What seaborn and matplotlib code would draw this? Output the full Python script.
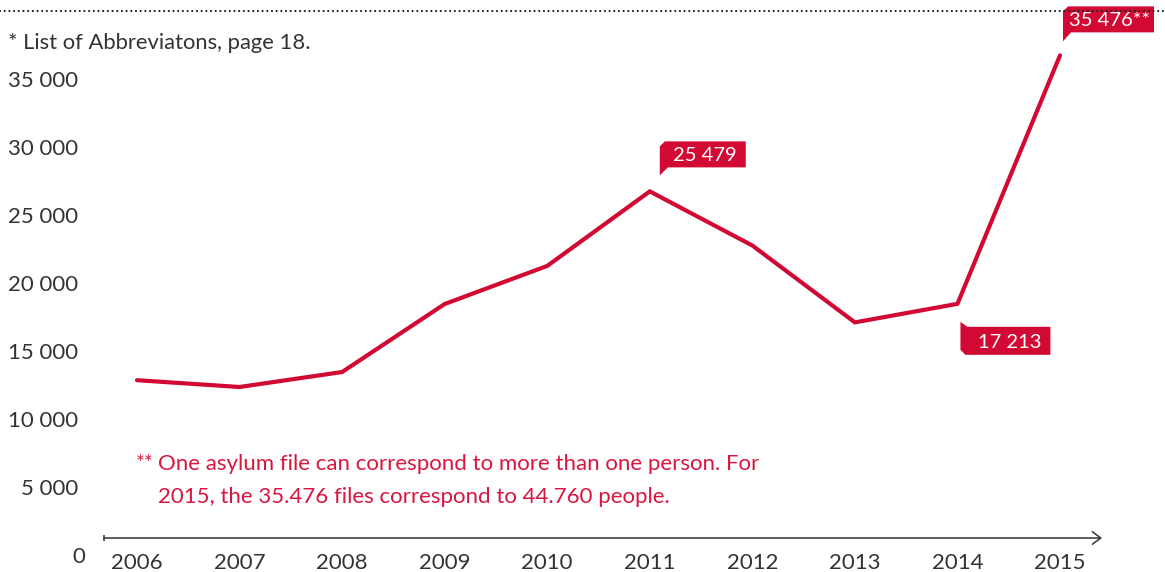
import numpy as np
import pandas as pd
import seaborn as sns
import matplotlib
matplotlib.use("Agg")
import matplotlib.pyplot as plt
import matplotlib.transforms as mtransforms
from matplotlib.patches import Polygon
from matplotlib.lines import Line2D

# Asylum files per year
years = [2006, 2007, 2008, 2009, 2010, 2011, 2012, 2013, 2014, 2015]
files = [11600, 11100, 12200, 17200, 20000, 25479, 21500, 15850, 17213, 35476]

# Highlighted years with value flags
callout_years = [2011, 2014, 2015]
callout_suffix = ["", "", "**"]

y_ticks = [0, 5000, 10000, 15000, 20000, 25000, 30000, 35000]
y_tick_labels = ["0", "5 000", "10 000", "15 000", "20 000", "25 000", "30 000", "35 000"]

note_top = "* List of Abbreviatons, page 18."
note_marker = "**"
note_lines = ["One asylum file can correspond to more than one person. For",
              "2015, the 35.476 files correspond to 44.760 people."]

RED = "#d20a33"
NOTE_RED = "#d8163f"
GREY = "#333333"

sns.set_theme(style="white")
plt.rcParams["font.family"] = ["Lato", "DejaVu Sans"]

W, H = 1165, 572
fig = plt.figure(figsize=(W / 100, H / 100), dpi=100)
fig.patch.set_facecolor("white")

# axes frame: left edge at x=104 px, zero line at y=538 px (from top)
ax = fig.add_axes([104 / W, (H - 538) / H, 998 / W, 538 / H])
ax.set_facecolor("white")

df = pd.DataFrame({"year": years, "files": files})
sns.lineplot(data=df, x="year", y="files", ax=ax, color=RED, linewidth=3.0,
             solid_capstyle="round", solid_joinstyle="miter", zorder=3)

px_per_unit = 0.013604  # pixels per file
ax.set_ylim(0, 538 / px_per_unit)
ax.set_xlim(2006 - 33 / 102.56, 2015 + 42 / 102.56)

for s in ax.spines.values():
    s.set_visible(False)
ax.set_ylabel("")
ax.set_xlabel("")
ax.set_yticks([])
ax.set_xticks(years)
ax.set_xticklabels([str(y) for y in years])
ax.tick_params(axis="x", length=0, pad=11, labelsize=16, labelcolor=GREY)

# x axis with open arrow head
ax.annotate("", xy=(1, 0), xytext=(0, 0), xycoords="axes fraction",
            textcoords="axes fraction", annotation_clip=False,
            arrowprops=dict(arrowstyle="->,head_length=0.6,head_width=0.45",
                            color=GREY, lw=1.1, shrinkA=0, shrinkB=0,
                            mutation_scale=10))
ax.plot([0], [0], transform=ax.transAxes, marker="|", ms=4, mew=1.1,
        color=GREY, clip_on=False)

# y labels sit a little below their values
ylab_tr = ax.get_yaxis_transform() + mtransforms.ScaledTranslation(
    0, -17 / 100, fig.dpi_scale_trans)
for v, lab in zip(y_ticks, y_tick_labels):
    x_px = -19 if v == 0 else -26
    ax.text(x_px / 998, v, lab, transform=ylab_tr, ha="right",
            va="center_baseline", fontsize=16, color=GREY)


def flag_up(dx, tip, bottom, top, right, tail=8, ch=5):
    return [(dx, tip), (dx, top - ch), (dx + ch, top), (right, top),
            (right, bottom), (dx + tail, bottom)]


def flag_down(dx, tip, top, bottom, right, tail=7, ch=5):
    return [(dx, tip), (dx + tail, top), (right, top), (right, bottom),
            (dx + ch, bottom), (dx, bottom + ch)]


flag_shapes = [
    (flag_up(10, 16, 24, 50, 96), (55, 37)),
    (flag_down(3, -18, -23, -51, 93), (52, -37)),
    (flag_up(3, 14, 23, 49, 94), (49, 36)),
]

value_of = dict(zip(years, files))
for yr, suf, (shape, (tx, ty)) in zip(callout_years, callout_suffix, flag_shapes):
    val = value_of[yr]
    tr = fig.dpi_scale_trans + mtransforms.ScaledTranslation(yr, val, ax.transData)
    pts = np.array(shape, dtype=float) / 100.0
    ax.add_patch(Polygon(pts, closed=True, transform=tr, facecolor=RED,
                         edgecolor="none", clip_on=False, zorder=5))
    label = f"{val:,}".replace(",", " ") + suf
    ax.text(tx / 100, ty / 100, label, transform=tr, ha="center",
            va="center_baseline", fontsize=14.5, color="white", zorder=6)


def fpos(x, y):
    return x / W, 1 - y / H


# dotted rule along the top
fig.add_artist(Line2D([0, 1], [1 - 11 / H] * 2, transform=fig.transFigure,
                      color="#222222", lw=1.6, linestyle=(0, (0.01, 2.1)),
                      dash_capstyle="round", zorder=1))

fig.text(*fpos(8, 41), note_top, ha="left", va="center_baseline",
         fontsize=15.8, color=GREY)

fig.text(*fpos(136, 462), note_marker, ha="left", va="center_baseline",
         fontsize=15, color=NOTE_RED)
for i, line in enumerate(note_lines):
    fig.text(*fpos(158, 462 + 33 * i), line, ha="left",
             va="center_baseline", fontsize=16, color=NOTE_RED)

fig.savefig("out.png", dpi=100, facecolor="white")
